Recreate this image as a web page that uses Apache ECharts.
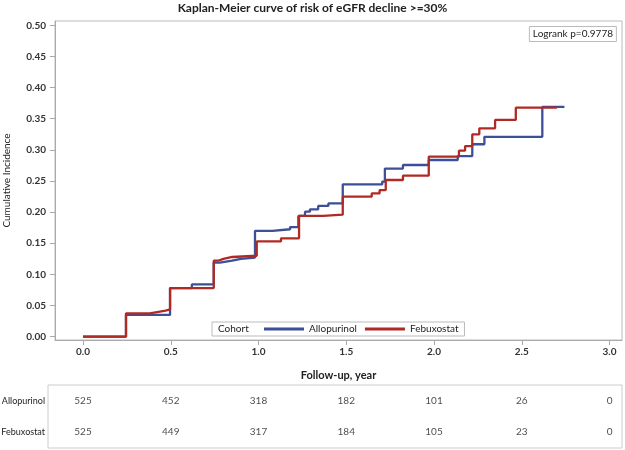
<!DOCTYPE html>
<html><head><meta charset="utf-8">
<script src="https://cdn.jsdelivr.net/npm/echarts@6/dist/echarts.min.js"></script>
<style>html,body{margin:0;padding:0;background:#fff}#c{width:625px;height:450px}</style>
</head><body><div id="c"></div>
<script>
var allopurinolTime  = [0, 0.245, 0.496, 0.62, 0.745, 0.78, 0.85, 0.90, 0.98, 1.08, 1.18, 1.227, 1.265, 1.293, 1.34, 1.398, 1.48, 1.705, 1.72, 1.823, 1.97, 2.135, 2.218, 2.287, 2.617, 2.743];
var allopurinolValue = [0, 0.035, 0.078, 0.084, 0.119, 0.122, 0.125, 0.127, 0.170, 0.1725, 0.176, 0.194, 0.2008, 0.2045, 0.210, 0.214, 0.2447, 0.249, 0.270, 0.2757, 0.2837, 0.290, 0.309, 0.321, 0.369, 0.369];
var febuxostatTime  = [0, 0.245, 0.38, 0.43, 0.47, 0.496, 0.745, 0.77, 0.80, 0.85, 0.99, 1.128, 1.231, 1.369, 1.48, 1.645, 1.69, 1.725, 1.823, 1.97, 2.142, 2.177, 2.218, 2.258, 2.348, 2.466, 2.70];
var febuxostatValue = [0, 0.0375, 0.040, 0.042, 0.044, 0.078, 0.122, 0.125, 0.128, 0.130, 0.153, 0.158, 0.194, 0.196, 0.2248, 0.230, 0.2355, 0.2516, 0.2585, 0.289, 0.2987, 0.306, 0.325, 0.3346, 0.348, 0.3677, 0.3677];
var xTicks = [0, 0.5, 1.0, 1.5, 2.0, 2.5, 3.0];
var yTicks = [0, 0.05, 0.10, 0.15, 0.20, 0.25, 0.30, 0.35, 0.40, 0.45, 0.50];
var riskTimes = [0, 0.5, 1.0, 1.5, 2.0, 2.5, 3.0];
var riskAllopurinol = [525, 452, 318, 182, 101, 26, 0];
var riskFebuxostat  = [525, 449, 317, 184, 105, 23, 0];
var cohorts = ['Allopurinol', 'Febuxostat'];

var FONT = 'Lato';
function pairs(t, v){ return t.map(function(x,i){ return [x, v[i]]; }); }
var riskData = [];
riskTimes.forEach(function(t,i){ riskData.push([t, 'Allopurinol', riskAllopurinol[i]]); });
riskTimes.forEach(function(t,i){ riskData.push([t, 'Febuxostat', riskFebuxostat[i]]); });

var chart = echarts.init(document.getElementById('c'), null, {renderer:'canvas'});
chart.setOption({
  animation: false,
  textStyle: {fontFamily: FONT},
  title: [
    {text: 'Kaplan-Meier curve of risk of eGFR decline >=30%', left: 'center', top: -3,
     textStyle: {fontFamily: FONT, fontSize: 12, fontWeight: 'bold', color: '#222'}},
    {text: 'Logrank p=0.9778', right: 8, top: 26, padding: [3, 4, 3, 4], borderWidth: 1, borderColor: '#bbb',
     textStyle: {fontFamily: FONT, fontSize: 10, fontWeight: 'normal', color: '#222'}}
  ],
  legend: {
    data: cohorts, left: 212, top: 322, padding: [2, 6, 2, 52], borderColor: '#bbb', borderWidth: 1,
    icon: 'rect', itemWidth: 40, itemHeight: 3, itemGap: 8,
    textStyle: {fontFamily: FONT, fontSize: 10, color: '#222'}
  },
  graphic: [
    {type: 'text', left: 218, top: 324, style: {text: 'Cohort', font: '10px Lato', fill: '#222'}, z: 100}
  ],
  grid: [
    {left: 55, right: 3, top: 21, bottom: 110, show: true, borderColor: '#bbb', borderWidth: 1,
     containLabel: false, outerBoundsMode: 'none'},
    {left: 48, right: 3, top: 385, bottom: 2, show: true, borderColor: '#ccc', borderWidth: 1,
     containLabel: false, outerBoundsMode: 'none'}
  ],
  xAxis: [
    {type: 'value', gridIndex: 0, min: -0.1595, max: 3.071,
     name: 'Follow-up, year', nameLocation: 'middle', nameGap: 30,
     nameTextStyle: {fontFamily: FONT, fontSize: 11, fontWeight: 'bold', color: '#222'},
     axisLine: {show: true, onZero: false, lineStyle: {color: '#aaa'}},
     axisTick: {show: true, length: 5, lineStyle: {color: '#aaa'}, customValues: xTicks},
     axisLabel: {customValues: xTicks, formatter: function(v){ return v.toFixed(1); }, margin: 7,
                 fontFamily: FONT, fontSize: 10, fontWeight: 'bold', color: '#333'},
     splitLine: {show: false}},
    {type: 'value', gridIndex: 1, min: -0.1994, max: 3.071, show: false}
  ],
  yAxis: [
    {type: 'value', gridIndex: 0, min: -0.0053, max: 0.5069,
     name: 'Cumulative Incidence', nameLocation: 'middle', nameGap: 43,
     nameTextStyle: {fontFamily: FONT, fontSize: 10, color: '#222'},
     axisLine: {show: true, onZero: false, lineStyle: {color: '#aaa'}},
     axisTick: {show: true, length: 5, lineStyle: {color: '#aaa'}, customValues: yTicks},
     axisLabel: {customValues: yTicks, formatter: function(v){ return v.toFixed(2); }, margin: 9,
                 fontFamily: FONT, fontSize: 10, fontWeight: 'bold', color: '#333'},
     splitLine: {show: false}},
    {type: 'category', gridIndex: 1, data: cohorts.slice().reverse(),
     axisLine: {show: false}, axisTick: {show: false},
     axisLabel: {margin: 3, fontFamily: FONT, fontSize: 9, color: '#222'}}
  ],
  series: [
    {name: 'Allopurinol', type: 'line', step: 'end', xAxisIndex: 0, yAxisIndex: 0, symbol: 'none',
     data: pairs(allopurinolTime, allopurinolValue), lineStyle: {color: '#3d4f96', width: 2.3}, itemStyle: {color: '#3d4f96'}},
    {name: 'Febuxostat', type: 'line', step: 'end', xAxisIndex: 0, yAxisIndex: 0, symbol: 'none',
     data: pairs(febuxostatTime, febuxostatValue), lineStyle: {color: '#b02a25', width: 2.3}, itemStyle: {color: '#b02a25'}},
    {type: 'scatter', xAxisIndex: 1, yAxisIndex: 1, symbolSize: 0, data: riskData,
     encode: {x: 0, y: 1},
     label: {show: true, position: 'inside', formatter: function(p){ return String(p.value[2]); },
             fontFamily: FONT, fontSize: 10, color: '#222'}}
  ]
});
</script></body></html>
